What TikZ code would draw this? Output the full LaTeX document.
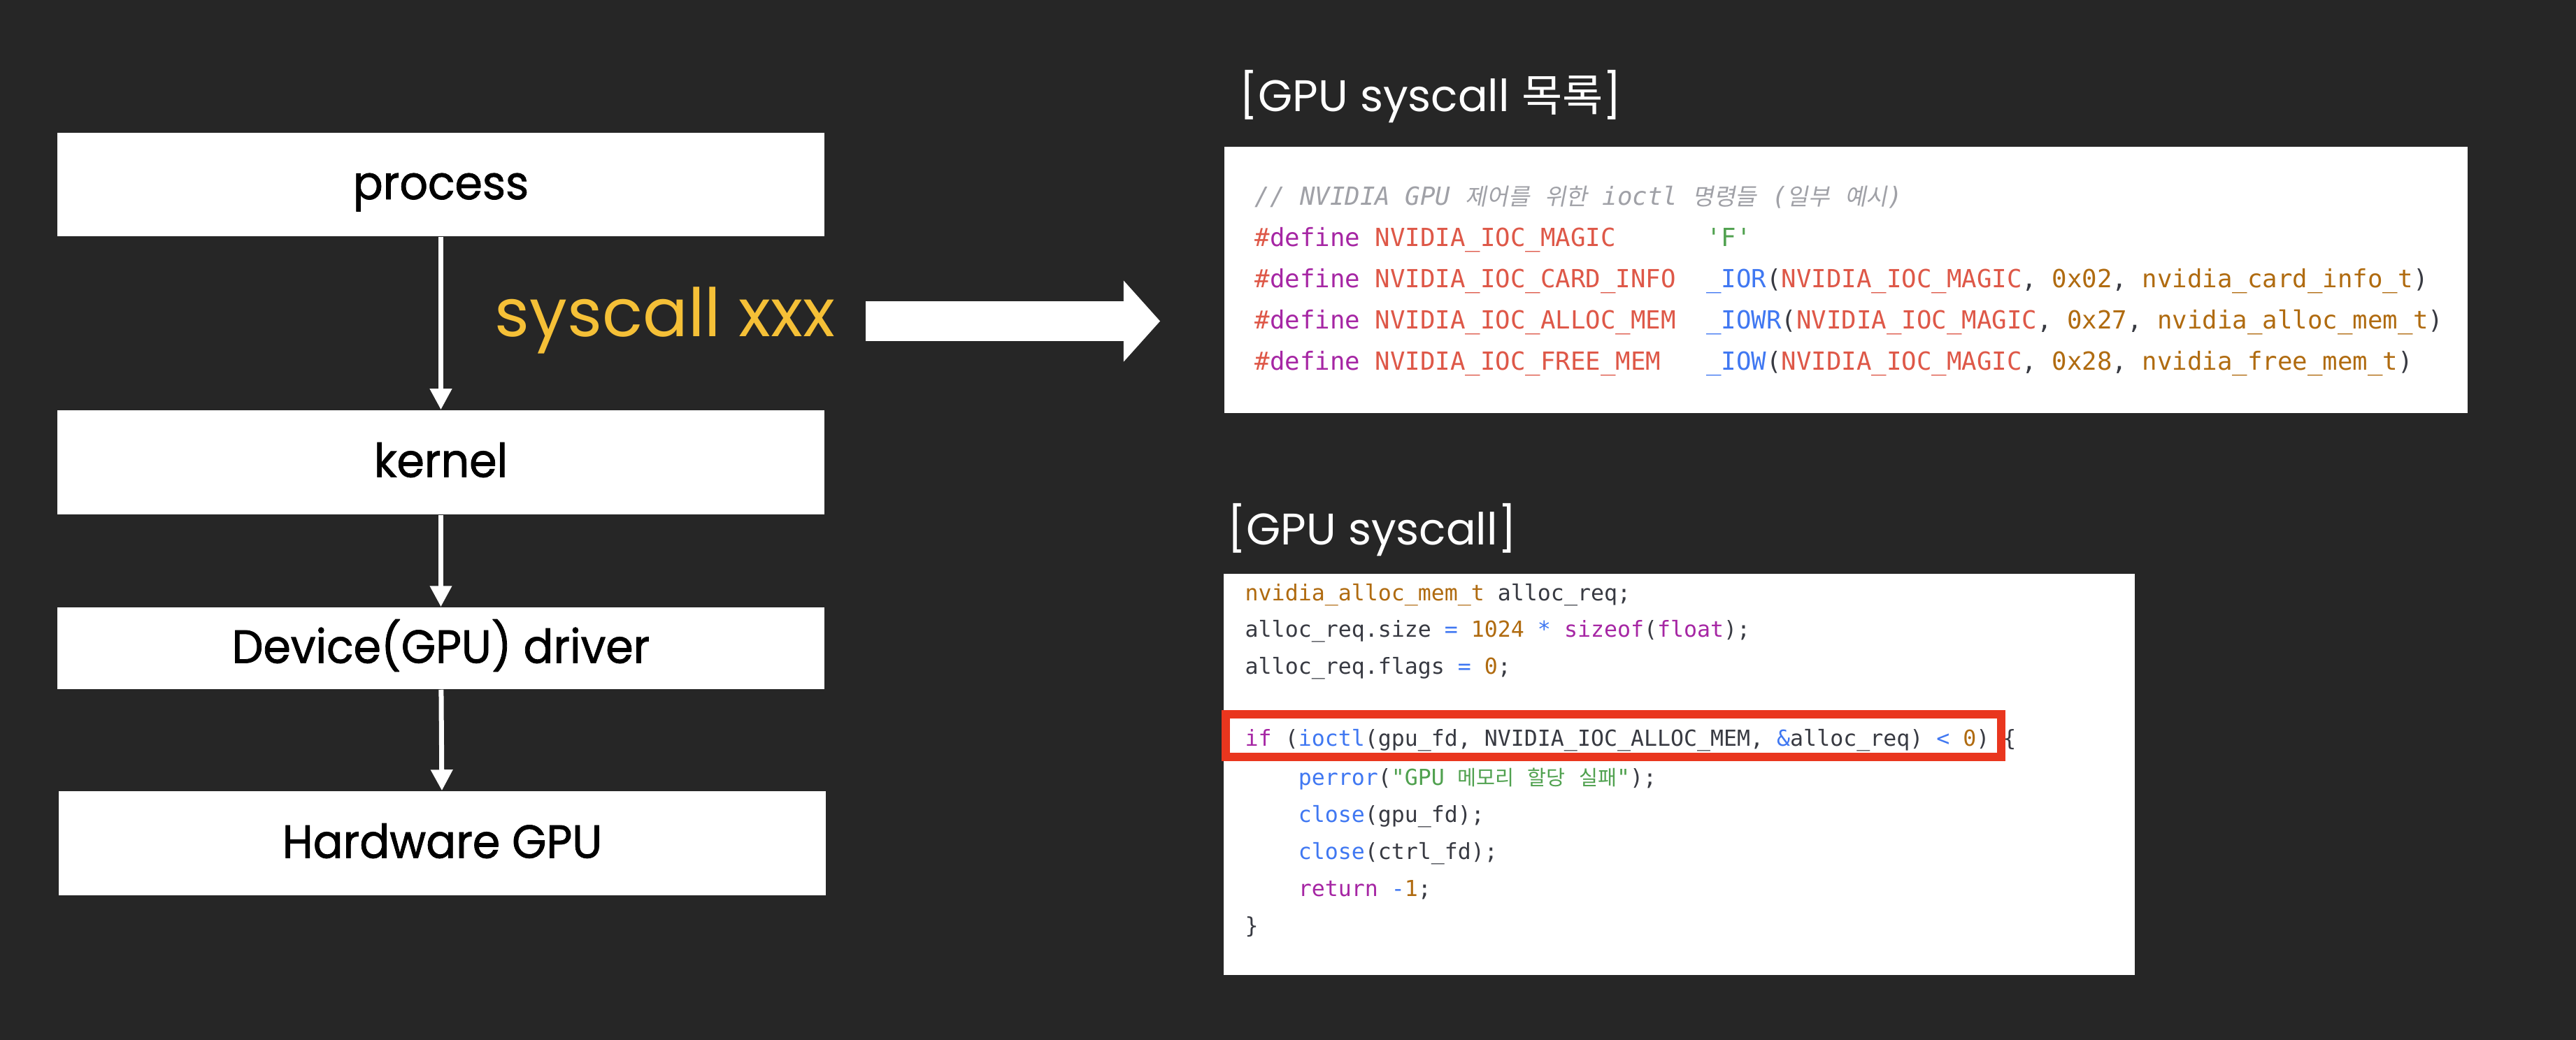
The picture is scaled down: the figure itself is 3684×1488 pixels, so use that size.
\documentclass[tikz,border=0pt]{standalone}
\usepackage{fontspec}
\usepackage{xcolor}
\setmainfont{Poppins}
\newfontfamily\labelfont[FakeStretch=0.95, FakeBold=1.2]{Poppins}
\newfontfamily\codefont{DejaVu Sans Mono}
\newfontfamily\krfont[Scale=0.93]{Noto Sans CJK KR}
\newfontfamily\krslant[Scale=0.93, FakeSlant=0.2]{Noto Sans CJK KR}
\newfontfamily\krtitle{Noto Sans CJK KR}
\usetikzlibrary{arrows.meta}

\definecolor{bgDark}{RGB}{38,38,38}
\definecolor{sysYellow}{RGB}{245,192,55}
\definecolor{hlRed}{RGB}{233,54,30}
\definecolor{codeDark}{RGB}{56,58,66}
\definecolor{kwPurple}{RGB}{166,38,164}
\definecolor{macRed}{RGB}{222,88,72}
\definecolor{fnBlue}{RGB}{64,120,242}
\definecolor{numBrown}{RGB}{176,107,16}
\definecolor{strGreen}{RGB}{80,161,79}
\definecolor{comGray}{RGB}{160,161,167}

% syntax colouring helpers
\newcommand{\ckw}[1]{\textcolor{kwPurple}{#1}}
\newcommand{\cmac}[1]{\textcolor{macRed}{#1}}
\newcommand{\cfn}[1]{\textcolor{fnBlue}{#1}}
\newcommand{\cnum}[1]{\textcolor{numBrown}{#1}}
\newcommand{\cstr}[1]{\textcolor{strGreen}{#1}}
\newcommand{\ccom}[1]{\textcolor{comGray}{\itshape #1}}

\begin{document}
\begin{tikzpicture}[
    x=0.01cm, y=-0.01cm,
    % ── boxes ──
    layerBox/.style  = {fill=white, minimum width=10.97cm, inner sep=0pt,
                        text=black, font=\labelfont\fontsize{19}{22}\selectfont,
                        text height=0.42cm, text depth=0pt},
    codeBox/.style   = {fill=white, anchor=north west, inner sep=0pt},
    hlBox/.style     = {draw=hlRed, line width=0.12cm, inner sep=0pt},
    % ── arrows ──
    downArr/.style   = {white, line width=0.07cm,
                        -{Triangle[length=0.3cm, width=0.3cm]}},
    bigArr/.style    = {white, line width=0.57cm,
                        -{Triangle[length=0.52cm, width=1.16cm, line width=0pt]}},
    % ── text styles ──
    sysLabel/.style  = {anchor=base west, inner sep=0pt, text=sysYellow,
                        font=\fontsize{27.2}{32}\selectfont},
    titleLabel/.style= {anchor=base west, inner sep=0pt, text=white,
                        font=\fontsize{18}{22}\selectfont},
    defLine/.style   = {anchor=base west, inner sep=0pt, text=codeDark,
                        font=\codefont\fontsize{10.16}{12}\selectfont},
    useLine/.style   = {anchor=base west, inner sep=0pt, text=codeDark,
                        font=\codefont\fontsize{8.98}{11}\selectfont},
]

\useasboundingbox (0,0) rectangle (3684,1488);
\fill[bgDark] (0,0) rectangle (3684,1488);

% =====================================================================
% Left stack   process -> kernel -> driver -> hardware
% =====================================================================
\node[layerBox, minimum height=1.48cm] (process) at (630.5,264)    {process};
\node[layerBox, minimum height=1.49cm] (kernel)  at (630.5,661.5)  {kernel};
\node[layerBox, minimum height=1.17cm] (driver)  at (630.5,927.5)  {Device(GPU) driver};
\node[layerBox, minimum height=1.49cm] (hwgpu)   at (632.5,1206.5) {Hardware GPU};

\draw[downArr] (process) -- (kernel);
\draw[downArr] (kernel) -- (driver);
\draw[downArr] (driver) -- (hwgpu);

% syscall label + block arrow
\node[sysLabel] (sysxxx) at (707,481) {syscall xxx};
\coordinate (bigStart) at (1238,459.5);
\coordinate (bigTip)   at (1659,459.5);
\draw[bigArr] (bigStart) -- (bigTip);

% =====================================================================
% Right top   [GPU syscall 목록]
% =====================================================================
\node[titleLabel] (defTitle) at (1772,160) {[GPU syscall {\krtitle 목록}]};
\node[codeBox, minimum width=17.77cm, minimum height=3.81cm] (defBox) at (1750,209) {};

\foreach \txt [count=\i from 0] in {
    {\ccom{//~NVIDIA~GPU~{\krslant 제어를}~{\krslant 위한}~ioctl~{\krslant 명령들}~({\krslant 일부}~{\krslant 예시})}},
    {\cmac{\#}\ckw{define}~\cmac{NVIDIA\_IOC\_MAGIC}~~~~~~\cstr{\textquotesingle F\textquotesingle}},
    {\cmac{\#}\ckw{define}~\cmac{NVIDIA\_IOC\_CARD\_INFO}~~\cfn{\_IOR}(\cmac{NVIDIA\_IOC\_MAGIC},~\cnum{0x02},~\cnum{nvidia\_card\_info\_t})},
    {\cmac{\#}\ckw{define}~\cmac{NVIDIA\_IOC\_ALLOC\_MEM}~~\cfn{\_IOWR}(\cmac{NVIDIA\_IOC\_MAGIC},~\cnum{0x27},~\cnum{nvidia\_alloc\_mem\_t})},
    {\cmac{\#}\ckw{define}~\cmac{NVIDIA\_IOC\_FREE\_MEM}~~~\cfn{\_IOW}(\cmac{NVIDIA\_IOC\_MAGIC},~\cnum{0x28},~\cnum{nvidia\_free\_mem\_t})}}{
  \node[defLine] (defL\i) at (1794,294+58.8*\i) {\txt};
}

% =====================================================================
% Right bottom   [GPU syscall]
% =====================================================================
\node[titleLabel] (useTitle) at (1755,779) {[GPU syscall]};
\node[codeBox, minimum width=13.03cm, minimum height=5.74cm] (useBox) at (1749,820) {};

\foreach \n/\txt in {
    0/{\cnum{nvidia\_alloc\_mem\_t}~alloc\_req;},
    1/{alloc\_req.size~\cfn{=}~\cnum{1024}~\cfn{*}~\ckw{sizeof}(\ckw{float});},
    2/{alloc\_req.flags~\cfn{=}~\cnum{0};},
    5/{~~~~\cfn{perror}(\cstr{\textquotedbl GPU~{\krfont 메모리}~{\krfont 할당}~{\krfont 실패}\textquotedbl});},
    6/{~~~~\cfn{close}(gpu\_fd);},
    7/{~~~~\cfn{close}(ctrl\_fd);},
    8/{~~~~\ckw{return}~\cfn{-}\cnum{1};},
    9/{\}}}{
  \node[useLine] (useL\n) at (1780,859+52.9*\n) {\txt};
}
% the ioctl line sits a little higher, clear of the red frame
\node[useLine] (useL4) at (1780,1067)
  {\ckw{if}~(\cfn{ioctl}(gpu\_fd,~NVIDIA\_IOC\_ALLOC\_MEM,~\cfn{\&}alloc\_req)~\cfn{<}~\cnum{0})~\{};

% highlight of the ioctl call
\node[hlBox, minimum width=11.09cm, minimum height=0.61cm] (ioctlMark) at (2307.5,1052.5) {};

\end{tikzpicture}
\end{document}
